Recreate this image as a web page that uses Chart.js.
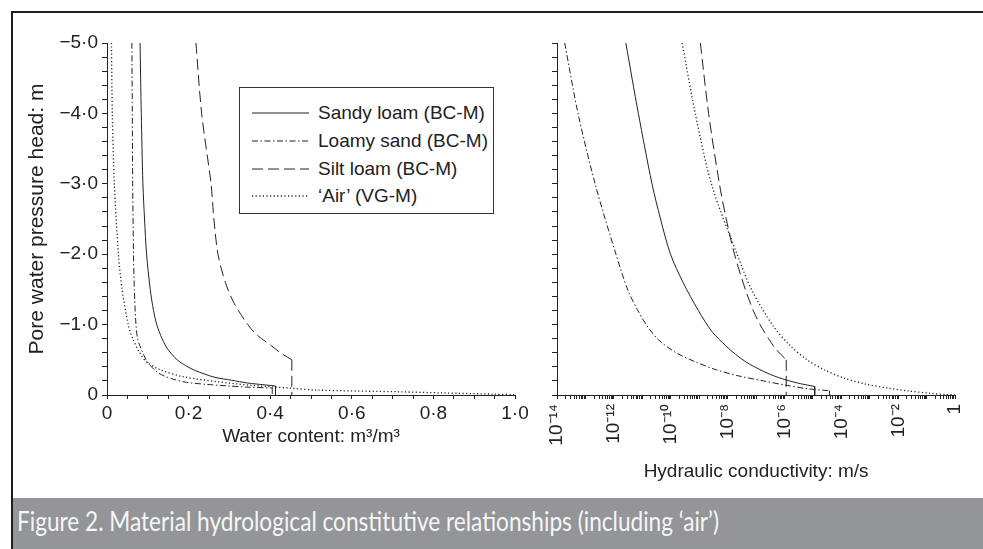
<!DOCTYPE html>
<html>
<head>
<meta charset="utf-8">
<script src="https://cdn.jsdelivr.net/npm/chart.js@4.4.1/dist/chart.umd.min.js"></script>
<style>
  html, body { margin: 0; padding: 0; background: #fff; }
  #page { position: relative; width: 983px; height: 549px; overflow: hidden; background: #fff;
          font-family: "Liberation Sans", Arial, Helvetica, sans-serif; color: #222; }
  #frame { position: absolute; left: 11px; top: 11px; right: -5px; bottom: -5px;
           border-top: 2px solid #1e1e1e; border-left: 2px solid #1e1e1e; }
  canvas { position: absolute; top: 0; }
  #wcCanvas { left: 0; }
  #kCanvas { left: 535px; }
  #legend { position: absolute; left: 239px; top: 87px; width: 255px; height: 127px; box-sizing: border-box;
            border: 1px solid #333; background: #fff; }
  .row { position: absolute; left: 0; height: 22px; width: 100%; }
  .row svg { position: absolute; left: 12px; top: 6px; }
  .row span { position: absolute; left: 78px; top: 0; font-size: 19px; line-height: 22px; white-space: nowrap; }
  #caption { position: absolute; left: 13px; top: 498px; width: 970px; height: 51px; background: #939598; }
  #caption span { position: absolute; left: 4px; top: 0; line-height: 46px; color: #f6f6f6; white-space: nowrap;
                  font-family: Lato, "Open Sans", sans-serif; font-size: 26px; transform-origin: left center; }
</style>
</head>
<body>
<div id="page">
  <div id="frame"></div>
  <canvas id="wcCanvas" width="535" height="498" style="width:535px;height:498px"></canvas>
  <canvas id="kCanvas" width="448" height="498" style="width:448px;height:498px"></canvas>
  <div id="legend"></div>
  <div id="caption"><span id="captionText">Figure 2. Material hydrological constitutive relationships (including ‘air’)</span></div>
</div>
<script>
// axis ticks and labels
const headTicks = [-5, -4, -3, -2, -1, 0];
const headTickLabels = ['−5·0', '−4·0', '−3·0', '−2·0', '−1·0', '0'];
const wcTicks = [0, 0.2, 0.4, 0.6, 0.8, 1.0];
const wcTickLabels = ['0', '0·2', '0·4', '0·6', '0·8', '1·0'];
const kExponents = [-14, -12, -10, -8, -6, -4, -2, 0];
const kTickLabels = ['10⁻¹⁴', '10⁻¹²', '10⁻¹⁰', '10⁻⁸', '10⁻⁶', '10⁻⁴', '10⁻²', '1'];

const seriesNames = ['Sandy loam (BC-M)', 'Loamy sand (BC-M)', 'Silt loam (BC-M)', '‘Air’ (VG-M)'];
const seriesDashes = [[], [6, 2.5, 1.5, 2.5], [11, 5], [1.2, 2.4]];

// water content (m3/m3) against pore water pressure head (m)
const sandyLoamHead = [-5, -4, -3, -2.5, -2, -1.5, -1.2, -1, -0.8, -0.65, -0.5, -0.42, -0.35, -0.3, -0.25, -0.21, -0.17, -0.145, -0.128, 0];
const sandyLoamWC = [0.081, 0.084, 0.088, 0.092, 0.097, 0.106, 0.114, 0.122, 0.135, 0.149, 0.172, 0.192, 0.215, 0.238, 0.265, 0.305, 0.345, 0.385, 0.413, 0.413];

const loamySandHead = [-5, -4, -3, -2, -1.5, -1, -0.8, -0.65, -0.5, -0.42, -0.33, -0.27, -0.22, -0.18, -0.15, -0.13, -0.11, -0.1, 0];
const loamySandWC = [0.061, 0.062, 0.063, 0.065, 0.067, 0.071, 0.075, 0.084, 0.096, 0.106, 0.122, 0.14, 0.165, 0.195, 0.245, 0.295, 0.35, 0.405, 0.405];

const siltLoamHead = [-5, -4, -3, -2.5, -2, -1.6, -1.3, -1, -0.85, -0.7, -0.6, -0.5, 0];
const siltLoamWC = [0.218, 0.232, 0.255, 0.262, 0.272, 0.29, 0.312, 0.345, 0.368, 0.403, 0.425, 0.453, 0.453];

const airHead = [-5, -4, -3, -2, -1.5, -1, -0.8, -0.6, -0.47, -0.36, -0.26, -0.19, -0.14, -0.095, -0.07, -0.045, -0.03, -0.012, -0.004];
const airWC = [0.011, 0.013, 0.018, 0.028, 0.037, 0.052, 0.063, 0.08, 0.097, 0.13, 0.187, 0.269, 0.35, 0.453, 0.514, 0.72, 0.82, 0.95, 1.0];

// hydraulic conductivity (log10 of m/s) against pore water pressure head (m)
const sandyLoamKHead = [-5, -4, -3, -2.5, -2, -1.6, -1.2, -0.9, -0.7, -0.58, -0.46, -0.37, -0.29, -0.213, -0.16, -0.121, 0];
const sandyLoamLogK = [-11.58, -11.14, -10.66, -10.36, -10.01, -9.57, -9.03, -8.55, -8.07, -7.73, -7.32, -6.91, -6.49, -5.94, -5.43, -4.94, -4.94];

const loamySandKHead = [-5, -3.98, -2.97, -1.99, -1.49, -1.21, -0.98, -0.78, -0.6, -0.47, -0.355, -0.27, -0.2, -0.142, -0.09, -0.061, 0];
const loamySandLogK = [-13.73, -13.25, -12.64, -11.92, -11.51, -11.17, -10.83, -10.42, -9.81, -9.13, -8.38, -7.6, -6.74, -5.99, -5.21, -4.42, -4.42];

const siltLoamKHead = [-5, -4, -3, -2.5, -2, -1.5, -1.2, -1, -0.8, -0.65, -0.5, 0];
const siltLoamLogK = [-8.96, -8.67, -8.29, -8.05, -7.76, -7.38, -7.1, -6.86, -6.56, -6.3, -5.94, -5.94];

const airKHead = [-5, -3.98, -2.97, -1.99, -1.49, -0.98, -0.71, -0.5, -0.355, -0.241, -0.156, -0.099, -0.057, -0.024, -0.007, -0.002];
const airLogK = [-9.6, -9.13, -8.55, -7.66, -7.15, -6.4, -5.82, -5.21, -4.59, -3.91, -3.16, -2.38, -1.63, -0.88, -0.34, 0];

const INK = '#222';
Chart.defaults.font.family = '"Liberation Sans", Arial, Helvetica, sans-serif';
Chart.defaults.color = INK;

function labelFor(v, values, labels) {
    const i = values.findIndex(t => Math.abs(t - v) < 1e-9);
    return i >= 0 ? labels[i] : '';
}

// curve part gets smoothed, the vertical drop to saturation stays straight
function buildDatasets(xs, hs, idx) {
    const pts = xs.map((x, i) => ({x: x, y: hs[i]}));
    const n = pts.length;
    const style = {
        showLine: true, pointRadius: 0, borderColor: INK, borderWidth: idx === 3 ? 1.3 : 1,
        borderDash: seriesDashes[idx], fill: false
    };
    if (n > 1 && pts[n - 1].x === pts[n - 2].x) {
        return [
            Object.assign({label: seriesNames[idx], data: pts.slice(0, n - 1), tension: 0.3}, style),
            Object.assign({label: seriesNames[idx] + ' ', data: pts.slice(n - 2), tension: 0}, style)
        ];
    }
    return [Object.assign({label: seriesNames[idx], data: pts, tension: 0.3}, style)];
}

const headMinor = Array.from({length: 26}, (_, i) => +(-5 + i * 0.2).toFixed(1));
const wcMinor = Array.from({length: 21}, (_, i) => +(i * 0.05).toFixed(2));
const kMinor = [];
for (let e = -14; e < 0; e++) {
    for (let m = 1; m <= 9; m++) kMinor.push(+(m + 'e' + e));
}
kMinor.push(1);

function headAxis(showLabels, width) {
    return {
        type: 'linear', position: 'left', min: -5, max: 0, reverse: true,
        afterBuildTicks: s => { s.ticks = headMinor.map(v => ({value: v})); },
        afterFit: s => { s.width = width; },
        border: {color: INK, width: 1},
        grid: {drawOnChartArea: false, drawTicks: true, tickLength: 5, tickColor: INK},
        ticks: {
            autoSkip: false, padding: 4, color: INK, font: {size: 19},
            callback: v => showLabels ? labelFor(v, headTicks, headTickLabels) : ''
        },
        title: {
            display: showLabels, text: 'Pore water pressure head: m', color: INK,
            font: {size: 21}, padding: {top: 25, bottom: 0}
        }
    };
}

const wcDatasets = [].concat(
    buildDatasets(sandyLoamWC, sandyLoamHead, 0),
    buildDatasets(loamySandWC, loamySandHead, 1),
    buildDatasets(siltLoamWC, siltLoamHead, 2),
    buildDatasets(airWC, airHead, 3)
);

new Chart(document.getElementById('wcCanvas'), {
    type: 'scatter',
    data: {datasets: wcDatasets},
    options: {
        responsive: false, animation: false, devicePixelRatio: 1,
        layout: {padding: {left: 0, top: 43, right: 20, bottom: 0}},
        plugins: {legend: {display: false}, tooltip: {enabled: false}},
        scales: {
            x: {
                type: 'linear', min: 0, max: 1,
                afterBuildTicks: s => { s.ticks = wcMinor.map(v => ({value: v})); },
                afterFit: s => { s.height = 103; },
                border: {color: INK, width: 1},
                grid: {drawOnChartArea: false, drawTicks: true, tickLength: 4, tickColor: INK},
                ticks: {
                    autoSkip: false, maxRotation: 0, padding: 3, color: INK, font: {size: 19},
                    callback: v => labelFor(v, wcTicks, wcTickLabels)
                },
                title: {
                    display: true, text: 'Water content: m³/m³', color: INK,
                    font: {size: 19}, padding: {top: 0, bottom: 50}
                }
            },
            y: headAxis(true, 107)
        }
    }
});

const toK = arr => arr.map(v => Math.pow(10, v));
const kDatasets = [].concat(
    buildDatasets(toK(sandyLoamLogK), sandyLoamKHead, 0),
    buildDatasets(toK(loamySandLogK), loamySandKHead, 1),
    buildDatasets(toK(siltLoamLogK), siltLoamKHead, 2),
    buildDatasets(toK(airLogK), airKHead, 3)
);

new Chart(document.getElementById('kCanvas'), {
    type: 'scatter',
    data: {datasets: kDatasets},
    options: {
        responsive: false, animation: false, devicePixelRatio: 1,
        layout: {padding: {left: 0, top: 43, right: 15, bottom: 0}},
        plugins: {legend: {display: false}, tooltip: {enabled: false}},
        scales: {
            x: {
                type: 'logarithmic', min: 1e-14, max: 1,
                afterBuildTicks: s => { s.ticks = kMinor.map(v => ({value: v})); },
                afterFit: s => { s.height = 103; },
                border: {color: INK, width: 1},
                grid: {drawOnChartArea: false, drawTicks: true, tickLength: 4, tickColor: INK},
                ticks: {
                    autoSkip: false, minRotation: 90, maxRotation: 90, padding: 5, color: INK, font: {size: 19},
                    callback: v => {
                        const e = Math.log10(v);
                        return labelFor(Math.round(e * 1e6) / 1e6, kExponents, kTickLabels);
                    }
                },
                title: {
                    display: true, text: 'Hydraulic conductivity: m/s', color: INK,
                    font: {size: 19}, padding: {top: 0, bottom: 15}
                }
            },
            y: headAxis(false, 22)
        }
    }
});

// legend box inside the left panel
const legend = document.getElementById('legend');
const rowTops = [14, 42, 70, 97];
seriesNames.forEach((name, i) => {
    const row = document.createElement('div');
    row.className = 'row';
    row.style.top = rowTops[i] + 'px';
    const dash = seriesDashes[i].length ? seriesDashes[i].join(' ') : 'none';
    row.innerHTML = '<svg width="60" height="10"><line x1="0" y1="5" x2="57" y2="5" stroke="' + INK +
        '" stroke-width="' + (i === 3 ? 1.3 : 1) + '" stroke-dasharray="' + dash + '"/></svg><span>' + name + '</span>';
    legend.appendChild(row);
});

// caption width matched to the printed figure
const cap = document.getElementById('captionText');
const w = cap.getBoundingClientRect().width;
cap.style.transform = 'scaleX(' + (702 / w).toFixed(3) + ')';
</script>
</body>
</html>
